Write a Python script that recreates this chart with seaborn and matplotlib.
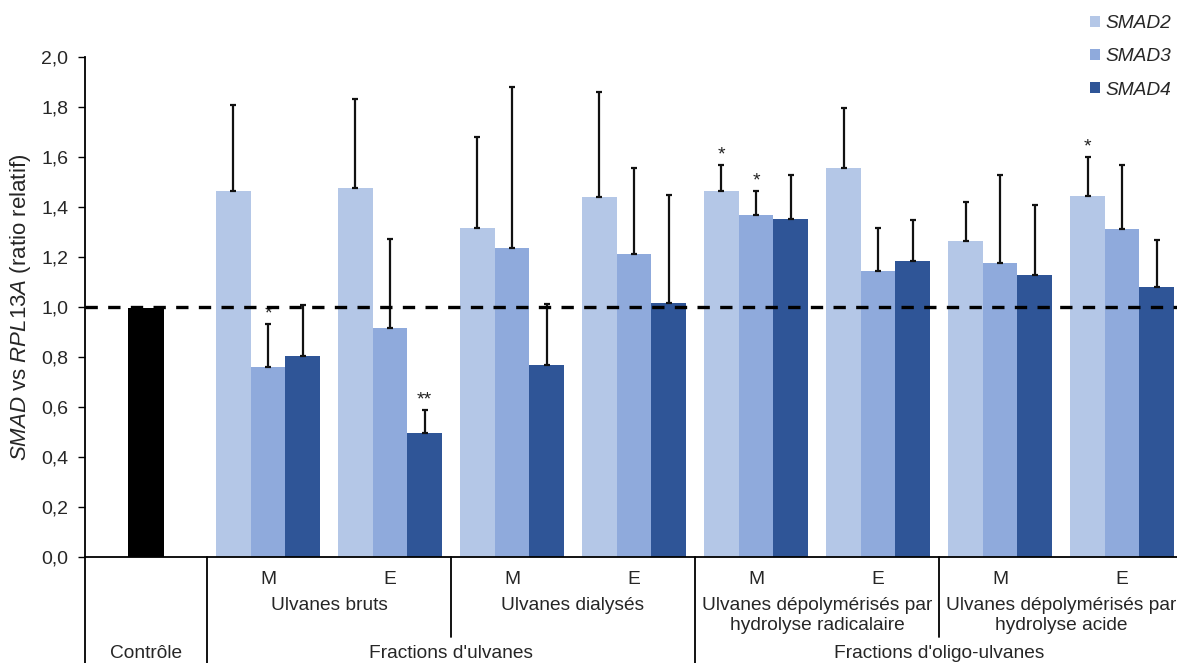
import numpy as np
import pandas as pd
import matplotlib
matplotlib.use("Agg")
import matplotlib.pyplot as plt
import matplotlib.transforms as mtransforms
import seaborn as sns
from matplotlib.ticker import FuncFormatter, MultipleLocator

# ---------------- data ----------------
categories = ["Contrôle", "UB_M", "UB_E", "UD_M", "UD_E", "UR_M", "UR_E", "UA_M", "UA_E"]
treatments = categories[1:]
genes = ["SMAD2", "SMAD3", "SMAD4"]

control_value = 0.995

smad2 = [1.464, 1.476, 1.316, 1.440, 1.464, 1.556, 1.264, 1.444]
smad3 = [0.760, 0.916, 1.235, 1.213, 1.368, 1.144, 1.175, 1.312]
smad4 = [0.804, 0.497, 0.768, 1.015, 1.351, 1.183, 1.127, 1.079]

smad2_err = [0.344, 0.357, 0.363, 0.420, 0.103, 0.239, 0.156, 0.157]
smad3_err = [0.172, 0.357, 0.646, 0.344, 0.096, 0.173, 0.353, 0.255]
smad4_err = [0.203, 0.091, 0.244, 0.434, 0.177, 0.164, 0.281, 0.190]

smad2_sig = ["", "", "", "", "*", "", "", "*"]
smad3_sig = ["*", "", "", "", "*", "", "", ""]
smad4_sig = ["", "**", "", "", "", "", "", ""]

sub_labels = ["M", "E", "M", "E", "M", "E", "M", "E"]
family_labels = ["Ulvanes bruts", "Ulvanes dialysés",
                 "Ulvanes dépolymérisés par\nhydrolyse radicalaire",
                 "Ulvanes dépolymérisés par\nhydrolyse acide"]
top_labels = ["Contrôle", "Fractions d'ulvanes", "Fractions d'oligo-ulvanes"]

colors = ["#b4c7e7", "#8faadc", "#2f5597"]

# ---------------- build table ----------------
values = {"SMAD2": smad2, "SMAD3": smad3, "SMAD4": smad4}
errors = {"SMAD2": smad2_err, "SMAD3": smad3_err, "SMAD4": smad4_err}
sigs = {"SMAD2": smad2_sig, "SMAD3": smad3_sig, "SMAD4": smad4_sig}
rows = []
for g in genes:
    for t, v in zip(treatments, values[g]):
        rows.append({"cat": t, "gene": g, "val": v})
df = pd.DataFrame(rows)
ctrl = pd.DataFrame({"cat": ["Contrôle"], "val": [control_value]})

# ---------------- plot ----------------
sns.set_style("white")
plt.rcParams["font.family"] = ["Liberation Sans", "DejaVu Sans"]
plt.rcParams["mathtext.fontset"] = "custom"
plt.rcParams["mathtext.it"] = "Liberation Sans:italic"
plt.rcParams["mathtext.rm"] = "Liberation Sans"

FS = 13.8
W, H = 1177, 663
fig = plt.figure(figsize=(W / 100, H / 100), dpi=100)
ax = fig.add_axes([85 / W, (H - 557) / H, (W - 85) / W, 500 / H])

sns.barplot(data=df, x="cat", y="val", hue="gene", order=categories, hue_order=genes,
            palette=colors, width=0.85, errorbar=None, linewidth=0, saturation=1,
            ax=ax, zorder=2)
sns.barplot(data=ctrl, x="cat", y="val", order=categories, color="black",
            width=0.287, errorbar=None, linewidth=0, saturation=1, ax=ax, zorder=2)

# error bars and significance stars
for gi, g in enumerate(genes):
    cont = ax.containers[gi]
    for bar in cont:
        xc = bar.get_x() + bar.get_width() / 2
        h = bar.get_height()
        if np.isnan(h):
            continue
        idx = int(round(xc)) - 1
        e = errors[g][idx]
        ax.errorbar([xc], [h], yerr=[[0], [e]], fmt="none", ecolor="#111111",
                    elinewidth=1.6, capsize=2.5, capthick=1.6, zorder=3)
        s = sigs[g][idx]
        if s:
            ax.annotate(s, (xc, h + e), xytext=(0, 1.0), textcoords="offset points",
                        ha="center", va="bottom", fontsize=14, color="#222222")

ax.axhline(1.0, color="black", lw=2.4, ls=(0, (3.7, 3.1)), zorder=4)

ax.set_ylim(0, 2.0)
ax.set_xlim(-0.5, 8.45)
ax.yaxis.set_major_locator(MultipleLocator(0.2))
ax.yaxis.set_major_formatter(FuncFormatter(lambda v, p: f"{v:.1f}".replace(".", ",")))
ax.tick_params(axis="y", direction="out", length=5, width=1, labelsize=14, left=True,
               color="black", pad=7)
ax.set_xticks([])
ax.set_xlabel("")
ax.set_ylabel(r"$\it{SMAD}$ vs $\it{RPL13A}$ (ratio relatif)", fontsize=16)
ax.yaxis.set_label_coords(-0.048, 0.5)
for sp in ["top", "right"]:
    ax.spines[sp].set_visible(False)
for sp in ["left", "bottom"]:
    ax.spines[sp].set_color("black")
    ax.spines[sp].set_linewidth(1.3)

# legend
handles, labels = ax.get_legend_handles_labels()
leg = ax.legend(handles[:3], labels[:3], loc="upper left",
                bbox_to_anchor=(1090 / W, 1 - 15 / H), bbox_transform=fig.transFigure,
                frameon=False, borderpad=0, borderaxespad=0,
                handlelength=0.5, handleheight=0.5, handletextpad=0.3,
                labelspacing=0.85, prop={"style": "italic", "size": FS})

# multi-level category axis below
trans = mtransforms.blended_transform_factory(ax.transData, ax.transAxes)
y_bottom = -(H - 557) / 500
y_mid = -(637 - 557) / 500
for xb, yend in [(-0.5, y_bottom), (0.5, y_bottom), (2.5, y_mid), (4.5, y_bottom), (6.5, y_mid)]:
    ax.plot([xb, xb], [0, yend], transform=trans, color="black", lw=1.3, clip_on=False)

for i, lab in enumerate(sub_labels):
    ax.text(i + 1, -0.046, lab, transform=trans, ha="center", va="center", fontsize=FS)
for j, lab in enumerate(family_labels):
    ax.text(1.5 + 2 * j, -0.081, lab, transform=trans, ha="center", va="top",
            fontsize=FS, linespacing=1.2)
top_pos = [0, 2.5, 6.5]
for xp, lab in zip(top_pos, top_labels):
    ax.text(xp, -0.211, lab, transform=trans, ha="center", va="bottom", fontsize=FS)

fig.savefig("out.png", dpi=100)
